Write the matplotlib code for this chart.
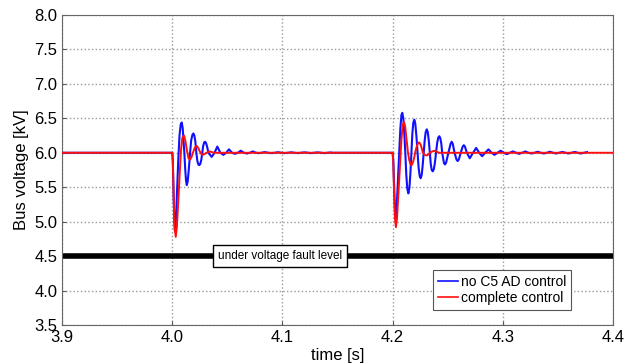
import matplotlib
matplotlib.use("Agg")
import matplotlib.pyplot as plt

plt.rcParams['font.family'] = ['Liberation Sans', 'DejaVu Sans']

# blue: no C5 AD control
blue_t = [3.9, 4.0, 4.0005, 4.0010, 4.0018, 4.0025, 4.0033, 4.0043, 4.0055, 4.0066,
          4.0077, 4.0086, 4.0095, 4.0103, 4.0110, 4.0118, 4.0125, 4.0132, 4.0140,
          4.0150, 4.0162, 4.0172, 4.0183, 4.0192, 4.0201, 4.0210, 4.0219, 4.0228,
          4.0237, 4.0246, 4.0255, 4.0264, 4.0272, 4.0281, 4.0290, 4.0298, 4.0307,
          4.0318, 4.0328, 4.0358, 4.0384, 4.0409, 4.0437, 4.0464, 4.0490, 4.0515,
          4.0543, 4.0570, 4.0596, 4.0622, 4.0650, 4.0678, 4.0705, 4.0730, 4.0760,
          4.0785, 4.0810, 4.0840, 4.0870, 4.0900, 4.0930, 4.0960, 4.0990, 4.1020,
          4.1050, 4.1080, 4.1110, 4.1140, 4.1170, 4.1200, 4.1230, 4.1260, 4.1290,
          4.1320, 4.1350, 4.1380, 4.1410, 4.1440, 4.1450,
          4.2, 4.2006, 4.2012, 4.2020, 4.2027, 4.2035, 4.2045, 4.2058, 4.2070,
          4.2080, 4.2088, 4.2097, 4.2106, 4.2115, 4.2124, 4.2133, 4.2143, 4.2153,
          4.2162, 4.2170, 4.2179, 4.2188, 4.2197, 4.2206, 4.2216, 4.2226, 4.2236,
          4.2246, 4.2255, 4.2264, 4.2273, 4.2282, 4.2291, 4.2300, 4.2310, 4.2319,
          4.2328, 4.2337, 4.2346, 4.2355, 4.2364, 4.2374, 4.2384, 4.2394, 4.2404,
          4.2414, 4.2424, 4.2433, 4.2442, 4.2450, 4.2466, 4.2476, 4.2486, 4.2506,
          4.2526, 4.2536, 4.2546, 4.2562, 4.2580, 4.2590, 4.2600, 4.2618, 4.2636,
          4.2646, 4.2656, 4.2674, 4.2700, 4.2730, 4.2758, 4.2786, 4.2812, 4.2840,
          4.2870, 4.2898, 4.2924, 4.2952, 4.2980, 4.3010, 4.3036, 4.3064, 4.3092,
          4.3120, 4.3148, 4.3176, 4.3204, 4.3232, 4.3260, 4.3288, 4.3316, 4.3344,
          4.3372, 4.3400, 4.3428, 4.3456, 4.3484, 4.3512, 4.3540, 4.3568, 4.3596,
          4.3624, 4.3652, 4.3680, 4.3708, 4.3736, 4.3764]
blue_v = [6.00, 6.00, 5.90, 5.55, 5.05, 4.86, 5.00, 5.40, 5.90, 6.25,
          6.41, 6.44, 6.36, 6.18, 6.00, 5.76, 5.60, 5.53, 5.58,
          5.75, 6.00, 6.18, 6.26, 6.28, 6.25, 6.16, 6.00, 5.88,
          5.83, 5.82, 5.84, 5.90, 6.00, 6.10, 6.15, 6.16, 6.14,
          6.08, 6.00, 5.94, 6.00, 6.09, 6.00, 5.97, 6.00, 6.05,
          6.00, 5.985, 6.00, 6.03, 6.00, 5.99, 6.00, 6.02, 6.00,
          5.995, 6.00, 6.01, 6.00, 5.995, 6.00, 6.008, 6.00, 5.995,
          6.00, 6.007, 6.00, 5.995, 6.00, 6.006, 6.00, 5.995, 6.00,
          6.006, 6.00, 5.995, 6.00, 6.005, 6.00,
          6.00, 5.90, 5.60, 5.20, 5.05, 5.15, 5.50, 5.95, 6.35,
          6.55, 6.58, 6.50, 6.28, 6.00, 5.68, 5.48, 5.41, 5.50,
          5.72, 6.00, 6.28, 6.44, 6.48, 6.42, 6.24, 6.00, 5.78,
          5.66, 5.63, 5.68, 5.82, 6.00, 6.18, 6.30, 6.34, 6.30,
          6.18, 6.00, 5.84, 5.75, 5.73, 5.76, 5.86, 6.00, 6.14,
          6.22, 6.24, 6.21, 6.13, 6.00, 5.85, 5.83, 5.86, 6.00,
          6.13, 6.16, 6.13, 6.00, 5.90, 5.88, 5.90, 6.00, 6.09,
          6.11, 6.09, 6.00, 5.92, 6.00, 6.07, 6.00, 5.95, 6.00,
          6.05, 6.00, 5.97, 6.00, 6.03, 6.00, 5.98, 6.00, 6.02,
          6.00, 5.985, 6.00, 6.02, 6.00, 5.99, 6.00, 6.015, 6.00,
          5.99, 6.00, 6.015, 6.00, 5.99, 6.00, 6.012, 6.00, 5.99,
          6.00, 6.012, 6.00, 5.99, 6.00, 6.01]

# red: complete control
red_t = [3.9, 4.0, 4.0006, 4.0012, 4.0022, 4.0032, 4.0042, 4.0055, 4.0068, 4.0080,
         4.0092, 4.0107, 4.0120, 4.0135, 4.0148, 4.0162, 4.0176, 4.0192, 4.0207,
         4.0222, 4.0236, 4.0250, 4.0265, 4.0280, 4.0310, 4.0340, 4.0380,
         4.2, 4.2006, 4.2012, 4.2021, 4.2030, 4.2040, 4.2054, 4.2068, 4.2080,
         4.2092, 4.2103, 4.2114, 4.2126, 4.2138, 4.2150, 4.2162, 4.2173, 4.2184,
         4.2196, 4.2207, 4.2220, 4.2232, 4.2242, 4.2254, 4.2265, 4.2275, 4.2292,
         4.2310, 4.2328, 4.2345, 4.2380, 4.2420, 4.4]
red_v = [6.00, 6.00, 5.85, 5.40, 4.90, 4.78, 4.92, 5.30, 5.70, 6.05,
         6.22, 6.25, 6.17, 6.02, 5.92, 5.90, 5.94, 6.02, 6.08,
         6.10, 6.07, 6.02, 5.98, 5.97, 6.00, 6.02, 6.00,
         6.00, 5.85, 5.50, 5.05, 4.92, 5.05, 5.45, 5.85, 6.20,
         6.40, 6.45, 6.38, 6.20, 6.02, 5.90, 5.83, 5.82, 5.86,
         5.93, 6.02, 6.10, 6.14, 6.15, 6.12, 6.06, 6.00, 5.97,
         5.96, 5.98, 6.01, 6.03, 6.00, 6.00]

fault_level = 4.5
xticks = [3.9, 4.0, 4.1, 4.2, 4.3, 4.4]
yticks = [3.5, 4.0, 4.5, 5.0, 5.5, 6.0, 6.5, 7.0, 7.5, 8.0]

fig = plt.figure(figsize=(6.24, 3.63), dpi=100)
ax = fig.add_axes([0.0994, 0.1047, 0.8830, 0.8540])

ax.axhline(fault_level, color='black', linewidth=4, zorder=2)
ax.plot(blue_t, blue_v, color='#1010ff', linewidth=1.5, label='no C5 AD control', zorder=3)
ax.plot(red_t, red_v, color='#ff1010', linewidth=1.4, label='complete control', zorder=4)

ax.text(4.098, fault_level, 'under voltage fault level', ha='center', va='center',
        fontsize=8.5, zorder=5,
        bbox=dict(boxstyle='square,pad=0.4', facecolor='white', edgecolor='black', linewidth=1))

ax.set_xlim(3.9, 4.4)
ax.set_ylim(3.5, 8.0)
ax.set_xticks(xticks)
ax.set_xticklabels(['%.1f' % x for x in xticks])
ax.set_yticks(yticks)
ax.set_yticklabels(['%.1f' % y for y in yticks])
ax.tick_params(direction='in', labelsize=12, length=3, color='#555555')
ax.grid(True, linestyle=':', color='#999999', linewidth=1)
for s in ax.spines.values():
    s.set_color('#666666')

ax.set_xlabel('time [s]', fontsize=12, labelpad=2)
ax.set_ylabel('Bus voltage [kV]', fontsize=12, labelpad=4)

leg = ax.legend(loc='lower right', bbox_to_anchor=(0.924, 0.048), borderaxespad=0,
                fontsize=10, handlelength=1.45, handletextpad=0.2, borderpad=0.35,
                labelspacing=0.15, fancybox=False, framealpha=1, edgecolor='#555555')
leg.get_frame().set_linewidth(0.8)
for line in leg.get_lines():
    line.set_linewidth(1.2)

fig.savefig('out.png', dpi=100)
